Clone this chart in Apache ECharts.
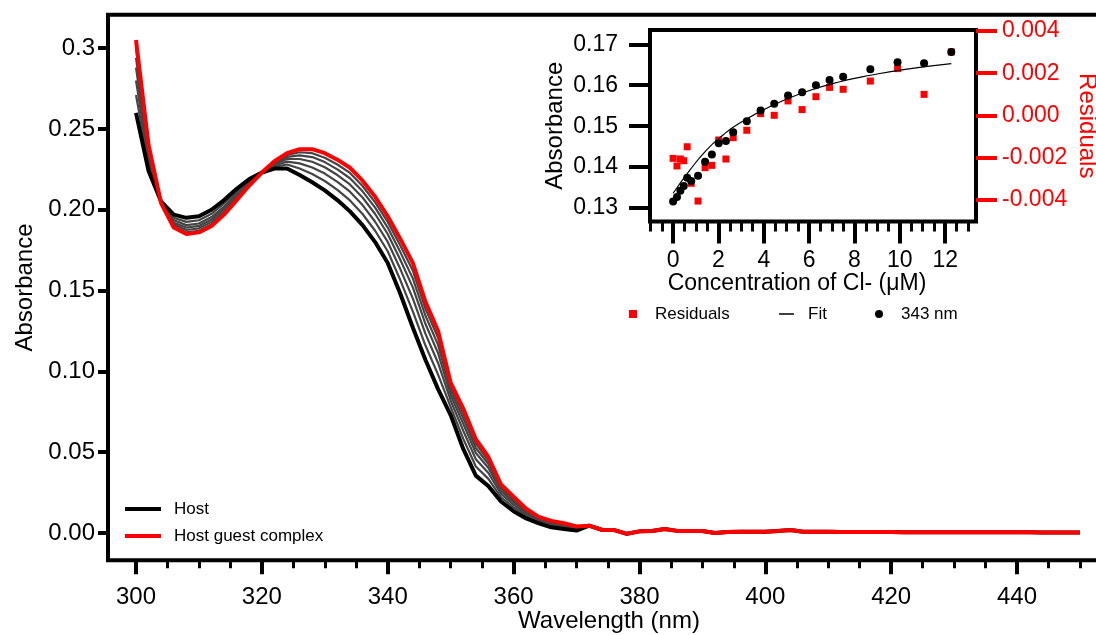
<!DOCTYPE html>
<html><head><meta charset="utf-8">
<script src="https://cdn.jsdelivr.net/npm/echarts@6/dist/echarts.min.js"></script>
<style>html,body{margin:0;padding:0;background:#fff}#c{width:1096px;height:635px}</style>
</head><body><div id="c"></div>
<script>
// ---------- main spectra ----------
const wlHead = [300,302,304,306,308,310,312,314,316,318,320,322,324,326,328,330,332,334,336,338,340,342,344,346,348,350,352,354,356,358,360,362,364,366,368,370];
const wlTail = [372,374,376,378,380,382,384,386,388,390,392,394,396,398,400,402,404,406,408,410,412,414,416,418,420,422,424,426,428,430,432,434,436,438,440,442,444,446,448,450];
const tailAbs = [0.0045,0.002,0.0018,-0.0005,0.001,0.0012,0.0025,0.0013,0.0012,0.0012,0.0,0.0006,0.0007,0.0007,0.0007,0.0012,0.0018,0.0008,0.0007,0.0007,0.0006,0.0006,0.0006,0.0006,0.0006,0.0005,0.0005,0.0005,0.0005,0.0005,0.0004,0.0004,0.0004,0.0004,0.0004,0.0004,0.0003,0.0003,0.0003,0.0003];
const hostAbs = [0.260,0.224,0.205,0.197,0.195,0.196,0.200,0.206,0.213,0.219,0.223,0.2255,0.2255,0.2215,0.217,0.212,0.206,0.199,0.1905,0.180,0.167,0.148,0.127,0.107,0.089,0.073,0.052,0.0355,0.029,0.0195,0.0135,0.009,0.006,0.0035,0.0025,0.0015];
const complexAbs = [0.305,0.240,0.204,0.189,0.185,0.186,0.190,0.197,0.206,0.215,0.223,0.230,0.235,0.2375,0.2375,0.235,0.231,0.226,0.218,0.208,0.196,0.182,0.167,0.143,0.125,0.093,0.077,0.058,0.047,0.030,0.0225,0.015,0.010,0.0075,0.006,0.004];
const titr1 = [0.271,0.228,0.205,0.195,0.1925,0.1935,0.1975,0.204,0.211,0.218,0.223,0.2266,0.228,0.2255,0.2221,0.2178,0.2123,0.2058,0.1974,0.187,0.1743,0.1565,0.137,0.116,0.098,0.078,0.0583,0.0411,0.0335,0.0221,0.0158,0.0105,0.007,0.0045,0.0034,0.0021];
const titr2 = [0.280,0.231,0.2045,0.1935,0.1905,0.1915,0.1955,0.202,0.210,0.217,0.223,0.2275,0.2298,0.2287,0.2262,0.2224,0.2173,0.2112,0.2029,0.1926,0.1801,0.1633,0.145,0.1232,0.1052,0.082,0.0633,0.0456,0.0371,0.0242,0.0176,0.0117,0.0078,0.0053,0.0041,0.0026];
const titr3 = [0.288,0.234,0.2045,0.192,0.189,0.190,0.194,0.2005,0.2085,0.2165,0.223,0.2283,0.2314,0.2314,0.2297,0.2263,0.2215,0.2157,0.2076,0.1974,0.185,0.1691,0.1518,0.1293,0.1113,0.0854,0.0675,0.0495,0.0402,0.026,0.0191,0.0127,0.0085,0.006,0.0047,0.003];
const titr4 = [0.294,0.236,0.204,0.191,0.1875,0.1885,0.1925,0.199,0.2075,0.216,0.223,0.229,0.2327,0.2337,0.2326,0.2295,0.225,0.2195,0.2114,0.2013,0.189,0.1738,0.1574,0.1344,0.1164,0.0882,0.071,0.0526,0.0427,0.0275,0.0203,0.0136,0.009,0.0065,0.0052,0.0034];
const titr5 = [0.300,0.238,0.204,0.190,0.186,0.187,0.191,0.198,0.207,0.2155,0.223,0.2295,0.2339,0.2356,0.235,0.2322,0.228,0.2228,0.2147,0.2046,0.1925,0.1779,0.1622,0.1387,0.1207,0.0906,0.074,0.0553,0.0448,0.0287,0.0214,0.0143,0.0095,0.007,0.0056,0.0037];
const mainXMajor = [300,320,340,360,380,400,420,440];
const mainXMinor = [305,310,315,325,330,335,345,350,355,365,370,375,385,390,395,405,410,415,425,430,435,445,450];
const mainYTicks = [0,0.05,0.10,0.15,0.20,0.25,0.30];
const mainYLabels = ['0.00','0.05','0.10','0.15','0.20','0.25','0.3'];

// ---------- inset (binding isotherm) ----------
const concCl = [0,0.17,0.32,0.47,0.62,0.8,1.1,1.41,1.71,2.01,2.33,2.65,3.25,3.86,4.46,5.07,5.69,6.3,6.9,7.5,8.7,9.9,11.07,12.27];
const abs343 = [0.1316,0.1327,0.1342,0.1354,0.1374,0.1366,0.1379,0.1413,0.1431,0.1458,0.1464,0.1485,0.1512,0.1538,0.1555,0.1575,0.1583,0.1600,0.1613,0.1621,0.1639,0.1656,0.1654,0.1681];
const residuals = [-0.00203,-0.00239,-0.00206,-0.00214,-0.00148,-0.00321,-0.00405,-0.00247,-0.00236,-0.00116,-0.00206,-0.00105,-0.0007,0.00009,0.00001,0.00069,0.00028,0.00089,0.00133,0.00124,0.00163,0.00222,0.001,0.00301];
const fitConc = [0,0.73,1.46,2.19,2.92,4.39,5.85,7.31,8.77,10.24,12.27];
const fitAbs = [0.1336,0.1392,0.1441,0.1478,0.1507,0.1551,0.1584,0.1608,0.1625,0.1639,0.1653];
const insetXMajor = [0,2,4,6,8,10,12];
const insetXMinor = [-1,-0.5,0.5,1,1.5,2.5,3,3.5,4.5,5,5.5,6.5,7,7.5,8.5,9,9.5,10.5,11,11.5,12.5,13];
const insetYTicks = [0.13,0.14,0.15,0.16,0.17];
const resTicks = [-0.004,-0.002,0,0.002,0.004];
const resLabels = ['-0.004','-0.002','0.000','0.002','0.004'];

const FONT = '"Liberation Sans", Arial, Helvetica, sans-serif';
const wlAll = wlHead.concat(wlTail);
const spectrum = head => wlAll.map((w, i) => [w, i < head.length ? head[i] : tailAbs[i - head.length]]);
const pairs = (xs, ys) => xs.map((x, i) => [x, ys[i]]);
const lbl = (ticks, labels) => v => { const k = ticks.findIndex(t => Math.abs(t - v) < 1e-9); return k >= 0 ? labels[k] : ''; };
const noLine = {show:false, onZero:false};

const chart = echarts.init(document.getElementById('c'), null, {renderer: 'canvas'});
const grayLine = (name, d) => ({name, type:'line', xAxisIndex:0, yAxisIndex:0, data: spectrum(d), showSymbol:false, silent:true, z:2,
  lineStyle:{color:'#454545', width:2.2}, itemStyle:{color:'#454545'}});

chart.setOption({
  animation:false,
  backgroundColor:'#fff',
  textStyle:{fontFamily:FONT},
  grid:[
    {left:108, top:14.7, right:-6, bottom:74.7, show:true, borderColor:'#000', borderWidth:4, backgroundColor:'transparent',
     containLabel:false, outerBoundsMode:'none'},
    {left:650, top:30, width:326, height:191.5, show:true, borderColor:'#000', borderWidth:4, backgroundColor:'#fff',
     containLabel:false, outerBoundsMode:'none'}
  ],
  xAxis:[
    {gridIndex:0, type:'value', min:295.55, max:453.5, position:'bottom',
     axisLine:noLine, splitLine:{show:false},
     axisTick:{show:true, customValues:mainXMajor, length:14, lineStyle:{color:'#000', width:4}},
     axisLabel:{customValues:mainXMajor, fontSize:24, color:'#000', margin:25, fontFamily:FONT},
     name:'Wavelength (nm)', nameLocation:'middle', nameGap:49, nameMoveOverlap:false,
     nameTextStyle:{fontSize:24, color:'#000', fontFamily:FONT, padding:[0,0,0,8]}},
    {gridIndex:0, type:'value', min:295.55, max:453.5, position:'bottom',
     axisLine:noLine, splitLine:{show:false}, axisLabel:{show:false},
     axisTick:{show:true, customValues:mainXMinor, length:8, lineStyle:{color:'#000', width:3}}},
    {gridIndex:1, type:'value', min:-1.02, max:13.36, position:'bottom',
     axisLine:noLine, splitLine:{show:false},
     axisTick:{show:true, customValues:insetXMajor, length:22, lineStyle:{color:'#000', width:4}},
     axisLabel:{customValues:insetXMajor, fontSize:23, color:'#000', margin:28, fontFamily:FONT},
     name:'Concentration of Cl- (μM)', nameLocation:'middle', nameGap:51, nameMoveOverlap:false,
     nameTextStyle:{fontSize:23, color:'#000', fontFamily:FONT, padding:[0,32,0,0]}},
    {gridIndex:1, type:'value', min:-1.02, max:13.36, position:'bottom',
     axisLine:noLine, splitLine:{show:false}, axisLabel:{show:false},
     axisTick:{show:true, customValues:insetXMinor, length:10, lineStyle:{color:'#000', width:3}}}
  ],
  yAxis:[
    {gridIndex:0, type:'value', min:-0.0169, max:0.3207, position:'left',
     axisLine:noLine, splitLine:{show:false},
     axisTick:{show:true, customValues:mainYTicks, length:10, lineStyle:{color:'#000', width:4}},
     axisLabel:{customValues:mainYTicks, formatter:lbl(mainYTicks, mainYLabels), fontSize:24, color:'#000', margin:13, fontFamily:FONT},
     name:'Absorbance', nameLocation:'middle', nameGap:71, nameMoveOverlap:false, nameTextStyle:{fontSize:24, color:'#000', fontFamily:FONT}},
    {gridIndex:1, type:'value', min:0.1267, max:0.1735, position:'left',
     axisLine:noLine, splitLine:{show:false},
     axisTick:{show:true, customValues:insetYTicks, length:21, lineStyle:{color:'#000', width:4}},
     axisLabel:{customValues:insetYTicks, formatter:v => v.toFixed(2), fontSize:23, color:'#000', margin:32, fontFamily:FONT},
     name:'Absorbance', nameLocation:'middle', nameGap:83, nameMoveOverlap:false, nameTextStyle:{fontSize:24, color:'#000', fontFamily:FONT}},
    {gridIndex:1, type:'value', min:-0.005018, max:0.004047, position:'right',
     axisLine:noLine, splitLine:{show:false},
     axisTick:{show:true, customValues:resTicks, length:21, lineStyle:{color:'#ff0000', width:4}},
     axisLabel:{customValues:resTicks, formatter:lbl(resTicks, resLabels), fontSize:23, color:'#ff0000', margin:26, fontFamily:FONT},
     name:'Residuals', nameLocation:'middle', nameRotate:-90, nameGap:99, nameMoveOverlap:false, nameTextStyle:{fontSize:24, color:'#ff0000', fontFamily:FONT}}
  ],
  legend:[
    {data:['Host','Host guest complex'], orient:'vertical', left:125, top:500, padding:0, itemGap:9,
     icon:'rect', itemWidth:36, itemHeight:4, selectedMode:false,
     textStyle:{fontSize:17, color:'#000', fontFamily:FONT, lineHeight:18, padding:[0,0,0,8]}},
    {data:['Residuals'], left:629, top:305, padding:0, icon:'rect', itemWidth:8, itemHeight:8, selectedMode:false,
     textStyle:{fontSize:17, color:'#000', fontFamily:FONT, lineHeight:18, padding:[0,0,0,13]}},
    {data:['Fit'], left:779, top:305, padding:0, icon:'rect', itemWidth:15, itemHeight:1.5, selectedMode:false,
     textStyle:{fontSize:17, color:'#000', fontFamily:FONT, lineHeight:18, padding:[0,0,0,9]}},
    {data:['343 nm'], left:875, top:305, padding:0, icon:'circle', itemWidth:8, itemHeight:8, selectedMode:false,
     textStyle:{fontSize:17, color:'#000', fontFamily:FONT, lineHeight:18, padding:[0,0,0,13]}}
  ],
  series:[
    grayLine('t1', titr1), grayLine('t2', titr2), grayLine('t3', titr3), grayLine('t4', titr4), grayLine('t5', titr5),
    {name:'Host', type:'line', xAxisIndex:0, yAxisIndex:0, data:spectrum(hostAbs), showSymbol:false, z:3,
     lineStyle:{color:'#000', width:4}, itemStyle:{color:'#000'}},
    {name:'Host guest complex', type:'line', xAxisIndex:0, yAxisIndex:0, data:spectrum(complexAbs), showSymbol:false, z:4,
     lineStyle:{color:'#ff0000', width:4}, itemStyle:{color:'#ff0000'}},
    {name:'Residuals', type:'scatter', xAxisIndex:2, yAxisIndex:2, data:pairs(concCl, residuals), symbol:'rect', symbolSize:7, z:5,
     itemStyle:{color:'#ff0000', opacity:1}},
    {name:'Fit', type:'line', xAxisIndex:2, yAxisIndex:1, data:pairs(fitConc, fitAbs), smooth:true, showSymbol:false, z:6,
     lineStyle:{color:'#000', width:1.2}, itemStyle:{color:'#000'}},
    {name:'343 nm', type:'scatter', xAxisIndex:2, yAxisIndex:1, data:pairs(concCl, abs343), symbol:'circle', symbolSize:8, z:7,
     itemStyle:{color:'#000', opacity:1}}
  ]
});
</script></body></html>
